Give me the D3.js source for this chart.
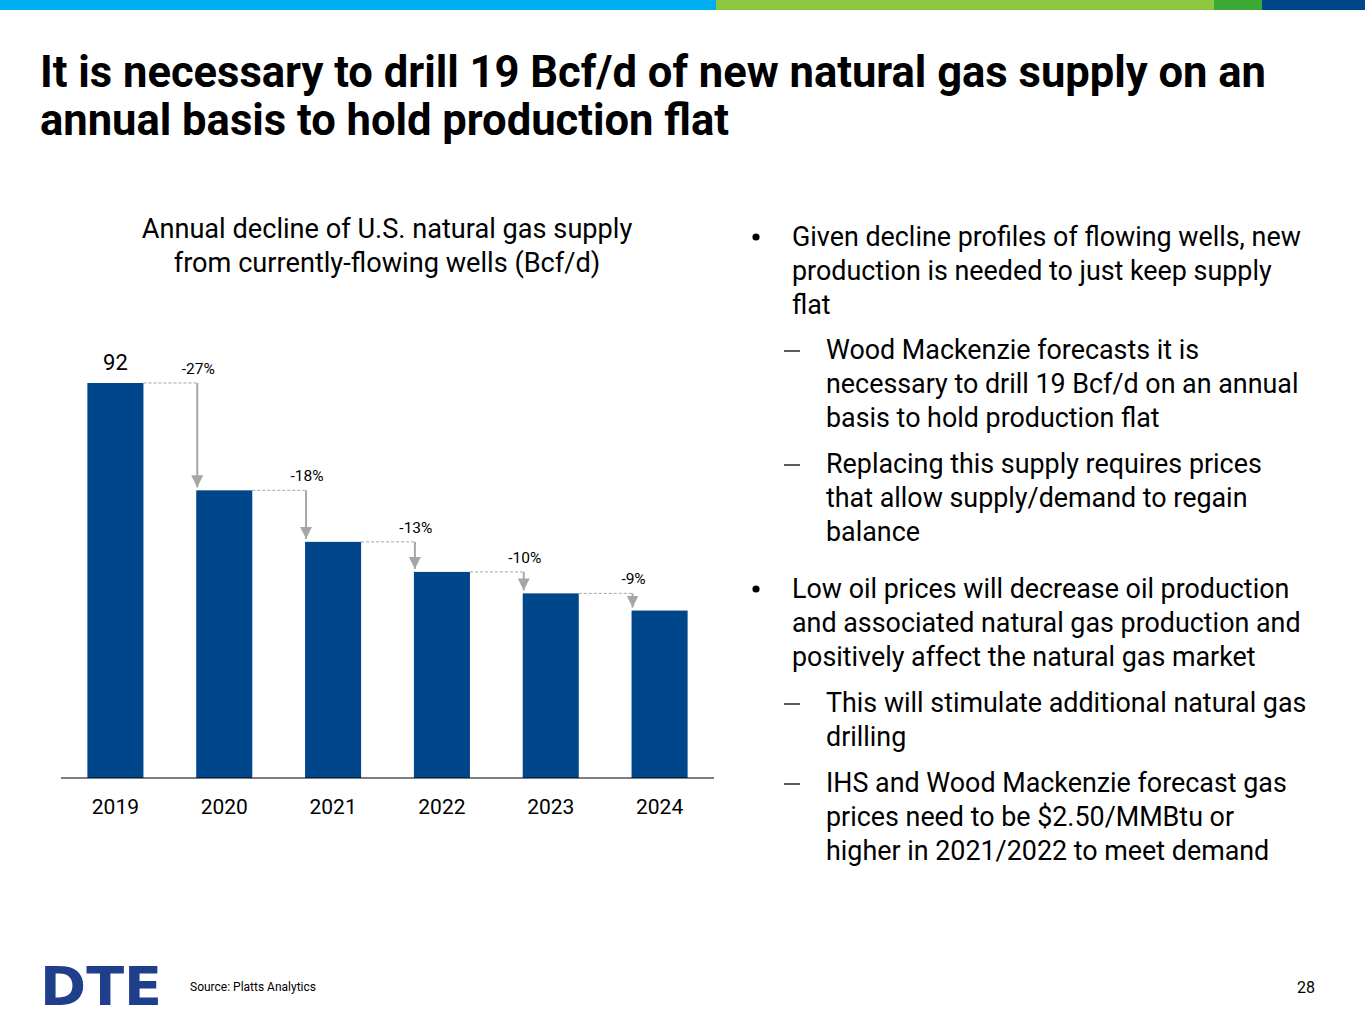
<!DOCTYPE html>
<html>
<head>
<meta charset="utf-8">
<script src="https://cdn.jsdelivr.net/npm/d3@7"></script>
<style>
  html, body { margin: 0; padding: 0; background: #fff; }
  svg { display: block; }
</style>
</head>
<body>
<div id="slide"></div>
<script>
// ---- data ----
const years = ["2019", "2020", "2021", "2022", "2023", "2024"];
const supply = [92, 67, 55, 48, 43, 39];
const declineLabels = ["-27%", "-18%", "-13%", "-10%", "-9%"];

const bullets = [
  { level: 0, lines: ["Given decline profiles of flowing wells, new", "production is needed to just keep supply", "flat"] },
  { level: 1, lines: ["Wood Mackenzie forecasts it is", "necessary to drill 19 Bcf/d on an annual", "basis to hold production flat"] },
  { level: 1, lines: ["Replacing this supply requires prices", "that allow supply/demand to regain", "balance"] },
  { level: 0, lines: ["Low oil prices will decrease oil production", "and associated natural gas production and", "positively affect the natural gas market"] },
  { level: 1, lines: ["This will stimulate additional natural gas", "drilling"] },
  { level: 1, lines: ["IHS and Wood Mackenzie forecast gas", "prices need to be $2.50/MMBtu or", "higher in 2021/2022 to meet demand"] }
];

(function() {
  const W = 1365, H = 1024;
  const bodyFont = "Roboto, 'Open Sans', sans-serif";
  const barColour = "#00468b";
  const grey = "#a6a6a6";

  const svg = d3.select("#slide").append("svg")
    .attr("width", W).attr("height", H)
    .attr("viewBox", `0 0 ${W} ${H}`);

  // fit a text element's font size so it spans a given width
  function fitWidth(sel, target) {
    const w = sel.node().getComputedTextLength();
    const fs = parseFloat(sel.style("font-size"));
    sel.style("font-size", (fs * target / w) + "px");
  }

  // Top colour strip
  const strip = [[0, 716, "#00aeef"], [716, 1214, "#8dc63f"], [1214, 1262, "#3aaa35"], [1262, 1365, "#00468b"]];
  svg.selectAll(".strip").data(strip).enter().append("rect")
    .attr("x", d => d[0]).attr("y", 0)
    .attr("width", d => d[1] - d[0]).attr("height", 10)
    .attr("fill", d => d[2]);

  // Slide title (condensed bold look via horizontal squeeze)
  const titleLines = [
    { text: "It is necessary to drill 19 Bcf/d of new natural gas supply on an", y: 87, w: 1226 },
    { text: "annual basis to hold production flat", y: 135, w: 689 }
  ];
  svg.selectAll(".title").data(titleLines).enter().append("text")
    .attr("x", 40).attr("y", d => d.y)
    .attr("textLength", d => d.w).attr("lengthAdjust", "spacingAndGlyphs")
    .style("font-family", "Roboto, sans-serif")
    .style("font-weight", "700").style("font-size", "45px").style("fill", "#000")
    .text(d => d.text);

  // Chart title
  const ct = svg.append("text").attr("text-anchor", "middle")
    .style("font-family", bodyFont).style("font-size", "24px").style("fill", "#000");
  ct.append("tspan").attr("x", 387).attr("y", 238).text("Annual decline of U.S. natural gas supply");
  fitWidth(ct, 491);
  ct.append("tspan").attr("x", 387).attr("y", 272).text("from currently-flowing wells (Bcf/d)");

  // Bar chart
  const x = d3.scaleBand().domain(years).range([61, 714]).paddingInner(0.485).paddingOuter(0.2425);
  const y = d3.scaleLinear().domain([0, 92]).range([778, 383]);

  const g = svg.append("g");
  g.selectAll(".bar").data(supply).enter().append("rect")
    .attr("class", "bar")
    .attr("x", (d, i) => x(years[i]))
    .attr("y", d => y(d))
    .attr("width", x.bandwidth())
    .attr("height", d => y(0) - y(d))
    .attr("fill", barColour);

  const xAxis = g.append("g").attr("transform", `translate(0,${y(0)})`)
    .call(d3.axisBottom(x).tickSize(0).tickPadding(21));
  xAxis.select(".domain").attr("stroke", "#000").attr("stroke-width", 1.2).attr("d", "M61,0H714");
  xAxis.selectAll("text").style("font-family", bodyFont).style("font-size", "21px").style("fill", "#000");

  g.append("text").attr("x", x(years[0]) + x.bandwidth() / 2).attr("y", y(supply[0]) - 13)
    .attr("text-anchor", "middle")
    .style("font-family", bodyFont).style("font-size", "22px").style("fill", "#000")
    .text(supply[0]);

  // arrowhead, pointing along the line direction
  svg.append("defs").append("marker")
    .attr("id", "arrow").attr("viewBox", "0 0 10 10")
    .attr("refX", 10).attr("refY", 5)
    .attr("markerWidth", 6).attr("markerHeight", 6)
    .attr("markerUnits", "strokeWidth")
    .attr("orient", "auto")
    .append("path").attr("d", "M0,0L10,5L0,10Z").attr("fill", grey);

  const steps = declineLabels.map((lab, i) => ({
    lab, from: supply[i], to: supply[i + 1],
    x0: x(years[i]) + x.bandwidth(),
    ax: x(years[i + 1]) + 1
  }));

  g.selectAll(".dash").data(steps).enter().append("line")
    .attr("x1", d => d.x0).attr("x2", d => d.ax)
    .attr("y1", d => y(d.from)).attr("y2", d => y(d.from))
    .attr("stroke", grey).attr("stroke-width", 1).attr("stroke-dasharray", "3,2");

  g.selectAll(".arrow").data(steps).enter().append("line")
    .attr("x1", d => d.ax).attr("x2", d => d.ax)
    .attr("y1", d => y(d.from)).attr("y2", d => y(d.to) - 3)
    .attr("stroke", grey).attr("stroke-width", 2)
    .attr("marker-end", "url(#arrow)");

  g.selectAll(".pct").data(steps).enter().append("text")
    .attr("x", d => d.ax + 1).attr("y", d => y(d.from) - 9)
    .attr("text-anchor", "middle")
    .style("font-family", bodyFont).style("font-size", "15.5px").style("fill", "#000")
    .text(d => d.lab);

  // Bullets
  const lineH = 34;
  const starts = [246, 359, 473, 598, 712, 792];
  let bodySize = null;
  bullets.forEach((b, bi) => {
    const tx = b.level === 0 ? 792 : 826;
    if (b.level === 0) {
      svg.append("circle").attr("cx", 756).attr("cy", starts[bi] - 9).attr("r", 3.6).attr("fill", "#000");
    } else {
      svg.append("line").attr("x1", 784).attr("x2", 800)
        .attr("y1", starts[bi] - 8).attr("y2", starts[bi] - 8)
        .attr("stroke", "#000").attr("stroke-width", 1.3);
    }
    b.lines.forEach((ln, li) => {
      const t = svg.append("text").attr("x", tx).attr("y", starts[bi] + li * lineH)
        .style("font-family", bodyFont).style("font-size", bodySize || "24px").style("fill", "#000")
        .text(ln);
      if (!bodySize) { fitWidth(t, 509); bodySize = t.style("font-size"); }
    });
  });

  // Footer: logo, source, page number
  svg.append("text").attr("x", 40).attr("y", 1005)
    .attr("textLength", 122).attr("lengthAdjust", "spacingAndGlyphs")
    .style("font-family", "'DejaVu Sans', sans-serif").style("font-weight", "900")
    .style("font-size", "54px").style("fill", "#1f3e8c")
    .text("DTE");

  svg.append("text").attr("x", 190).attr("y", 991)
    .style("font-family", bodyFont).style("font-size", "12px").style("fill", "#000")
    .text("Source: Platts Analytics");

  svg.append("text").attr("x", 1315).attr("y", 993).attr("text-anchor", "end")
    .style("font-family", bodyFont).style("font-size", "16px").style("fill", "#000")
    .text("28");
})();
</script>
</body>
</html>
